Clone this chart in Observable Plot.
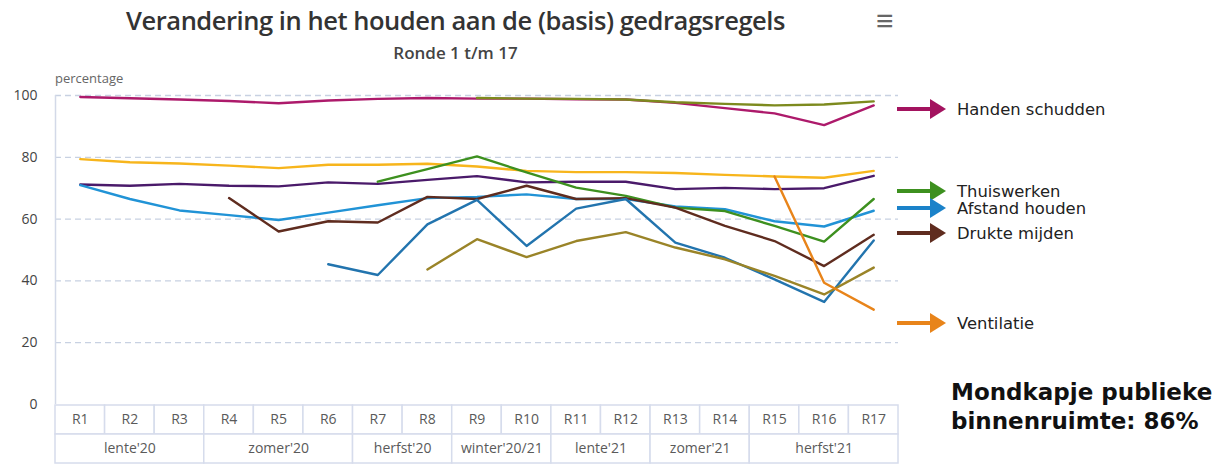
<!DOCTYPE html>
<html>
<head>
<meta charset="utf-8">
<script src="https://cdn.jsdelivr.net/npm/d3@7"></script>
<script src="https://cdn.jsdelivr.net/npm/@observablehq/plot@0.6"></script>
<style>
  body { margin: 0; background: #fff; }
  #wrap { position: relative; width: 1218px; height: 464px; overflow: hidden; font-family: "Open Sans", sans-serif; background: #fff; }
  #title { position: absolute; left: 0; width: 911px; top: 3px; text-align: center; font-size: 25.5px; font-weight: 600; color: #333; letter-spacing: -0.45px; white-space: nowrap; }
  #subtitle { position: absolute; left: 0; width: 911px; top: 41px; text-align: center; font-size: 17px; font-weight: 600; color: #444; }
  #menu { position: absolute; left: 876px; top: 2px; font-size: 30px; color: #666; line-height: 36px; }
  #ylabel { position: absolute; left: 55px; top: 69px; font-size: 13px; color: #666; }
  #main { position: absolute; left: 0; top: 60px; }
  #table { position: absolute; left: 0; top: 403px; }
  #legend .item { position: absolute; left: 895px; height: 24px; display: flex; align-items: center; white-space: nowrap; }
  #legend .item span { font-family: "DejaVu Sans", sans-serif; font-size: 16.4px; color: #222; margin-left: 10px; }
  #note { position: absolute; left: 951px; top: 378px; font-family: "DejaVu Sans", sans-serif; font-weight: bold; font-size: 23px; line-height: 29px; color: #111; white-space: nowrap; }
</style>
</head>
<body>
<div id="wrap">
  <div id="title">Verandering in het houden aan de (basis) gedragsregels</div>
  <div id="subtitle">Ronde 1 t/m 17</div>
  <div id="menu">≡</div>
  <div id="ylabel">percentage</div>
  <div id="main"></div>
  <div id="table"></div>
  <div id="legend"></div>
  <div id="note">Mondkapje publieke<br>binnenruimte: 86%</div>
</div>
<script>
// ---- data ----
const rounds = ["R1","R2","R3","R4","R5","R6","R7","R8","R9","R10","R11","R12","R13","R14","R15","R16","R17"];
const seasonLabels = ["lente'20","zomer'20","herfst'20","winter'20/21","lente'21","zomer'21","herfst'21"];
const seasonFirst  = [1, 4, 7, 9, 11, 13, 15];
const seasonLast   = [3, 6, 8, 10, 12, 14, 17];
const yTicks = [0, 20, 40, 60, 80, 100];

const handenSchudden = [99.5, 99.1, 98.7, 98.2, 97.5, 98.4, 98.9, 99.2, 99.0, 99.0, 98.8, 98.7, 97.6, 95.9, 94.2, 90.4, 96.8];
const olijfBoven     = [null, null, null, null, null, null, null, null, 99.2, 99.0, 98.9, 98.7, 97.8, 97.3, 96.8, 97.1, 98.1];
const geel           = [79.4, 78.4, 78.0, 77.3, 76.5, 77.6, 77.6, 77.9, 77.0, 75.6, 75.2, 75.2, 74.9, 74.3, 73.8, 73.4, 75.6];
const paars          = [71.2, 70.8, 71.4, 70.8, 70.6, 71.9, 71.4, 72.7, 73.9, 71.9, 72.1, 72.1, 69.7, 70.1, 69.7, 70.0, 74.0];
const afstandHouden  = [71.0, 66.5, 62.8, 61.3, 59.7, 62.1, 64.5, 66.8, 67.2, 68.0, 66.5, 66.5, 64.1, 63.2, 59.3, 57.6, 62.7];
const thuiswerken    = [null, null, null, null, null, null, 72.1, 76.2, 80.3, 75.1, 70.2, 67.5, 63.7, 62.6, 57.8, 52.7, 66.5];
const drukteMijden   = [null, null, null, 66.8, 56.0, 59.3, 58.9, 67.2, 66.5, 70.8, 66.5, 66.8, 63.7, 57.8, 52.9, 44.8, 54.9];
const donkerblauw    = [null, null, null, null, null, 45.4, 41.9, 58.3, 66.2, 51.3, 63.4, 66.5, 52.4, 47.5, 40.5, 33.2, 53.1];
const mosterd        = [null, null, null, null, null, null, null, 43.7, 53.5, 47.7, 52.9, 55.8, 50.8, 47.0, 41.6, 35.6, 44.3];
const ventilatie     = [null, null, null, null, null, null, null, null, null, null, null, null, null, null, 73.8, 39.4, 30.7];

const seriesNames  = ["Handen schudden","Olijf","Geel","Paars","Afstand houden","Thuiswerken","Drukte mijden","Donkerblauw","Mosterd","Ventilatie"];
const seriesValues = [handenSchudden, olijfBoven, geel, paars, afstandHouden, thuiswerken, drukteMijden, donkerblauw, mosterd, ventilatie];
const seriesColors = ["#ad1a6b","#7d8a1e","#f7b51c","#4a1a6a","#2193d6","#3d901f","#5f2c1f","#2274ae","#9a8428","#e8841a"];

const legendLabels = ["Handen schudden","Thuiswerken","Afstand houden","Drukte mijden","Ventilatie"];
const legendColors = ["#a3135f","#3d901f","#1b82c9","#5f2c1f","#e8841a"];
const legendTops   = [97, 179, 196, 221, 311];

// ---- build rows ----
const rows = [];
seriesNames.forEach((name, s) => {
  seriesValues[s].forEach((v, i) => {
    if (v != null) rows.push({series: name, round: i + 1, value: v});
  });
});

const W = 900, ML = 55, MR = 2;
const xDomain = [0.5, rounds.length + 0.5];

const main = Plot.plot({
  width: W, height: 354,
  marginLeft: ML, marginRight: MR, marginTop: 35, marginBottom: 10,
  x: {domain: xDomain, axis: null},
  y: {domain: [0, 100], axis: null},
  color: {domain: seriesNames, range: seriesColors},
  style: {background: "transparent", overflow: "visible"},
  marks: [
    Plot.ruleY(yTicks.filter(d => d > 0), {stroke: "#c8d1e2", strokeDasharray: "6,4", strokeWidth: 1.3}),
    Plot.ruleX([xDomain[0]], {y1: 0, y2: 100, stroke: "#d3d9e8", strokeWidth: 1.5}),
    Plot.text(yTicks, {x: xDomain[0], y: d => d, text: d => String(d), dx: -18, textAnchor: "end", fontSize: 14, fill: "#444", fontFamily: "Open Sans"}),
    Plot.line(rows, {x: "round", y: "value", z: "series", stroke: "series", strokeWidth: 2.4, strokeLinejoin: "round"})
  ]
});
document.getElementById("main").appendChild(main);

// ---- table axis ----
const cells = [];
const cellText = [];
rounds.forEach((r, i) => {
  cells.push({row: "r", x1: i + 0.5, x2: i + 1.5});
  cellText.push({row: "r", x: i + 1, label: r});
});
seasonLabels.forEach((s, k) => {
  cells.push({row: "s", x1: seasonFirst[k] - 0.5, x2: seasonLast[k] + 0.5});
  cellText.push({row: "s", x: (seasonFirst[k] + seasonLast[k]) / 2, label: s});
});

const table = Plot.plot({
  width: W, height: 61,
  marginLeft: ML, marginRight: MR, marginTop: 1, marginBottom: 1,
  x: {domain: xDomain, axis: null},
  y: {domain: ["r", "s"], padding: 0, axis: null},
  style: {background: "transparent", overflow: "visible"},
  marks: [
    Plot.barX(cells, {x1: "x1", x2: "x2", y: "row", fill: "white", stroke: "#d6dcec", strokeWidth: 1.5, inset: 0}),
    Plot.text(cellText, {x: "x", y: "row", text: "label", fontSize: 14, fill: "#5a5a5a", fontFamily: "Open Sans"})
  ]
});
document.getElementById("table").appendChild(table);

// ---- annotation legend ----
const legend = document.getElementById("legend");
legendLabels.forEach((lab, k) => {
  const div = document.createElement("div");
  div.className = "item";
  div.style.top = legendTops[k] + "px";
  const c = legendColors[k];
  div.innerHTML = `<svg width="52" height="24" viewBox="0 0 52 24"><line x1="2" y1="12" x2="37" y2="12" stroke="${c}" stroke-width="4"/><polygon points="35,2 51,12 35,22" fill="${c}"/></svg><span>${lab}</span>`;
  legend.appendChild(div);
});
</script>
</body>
</html>
